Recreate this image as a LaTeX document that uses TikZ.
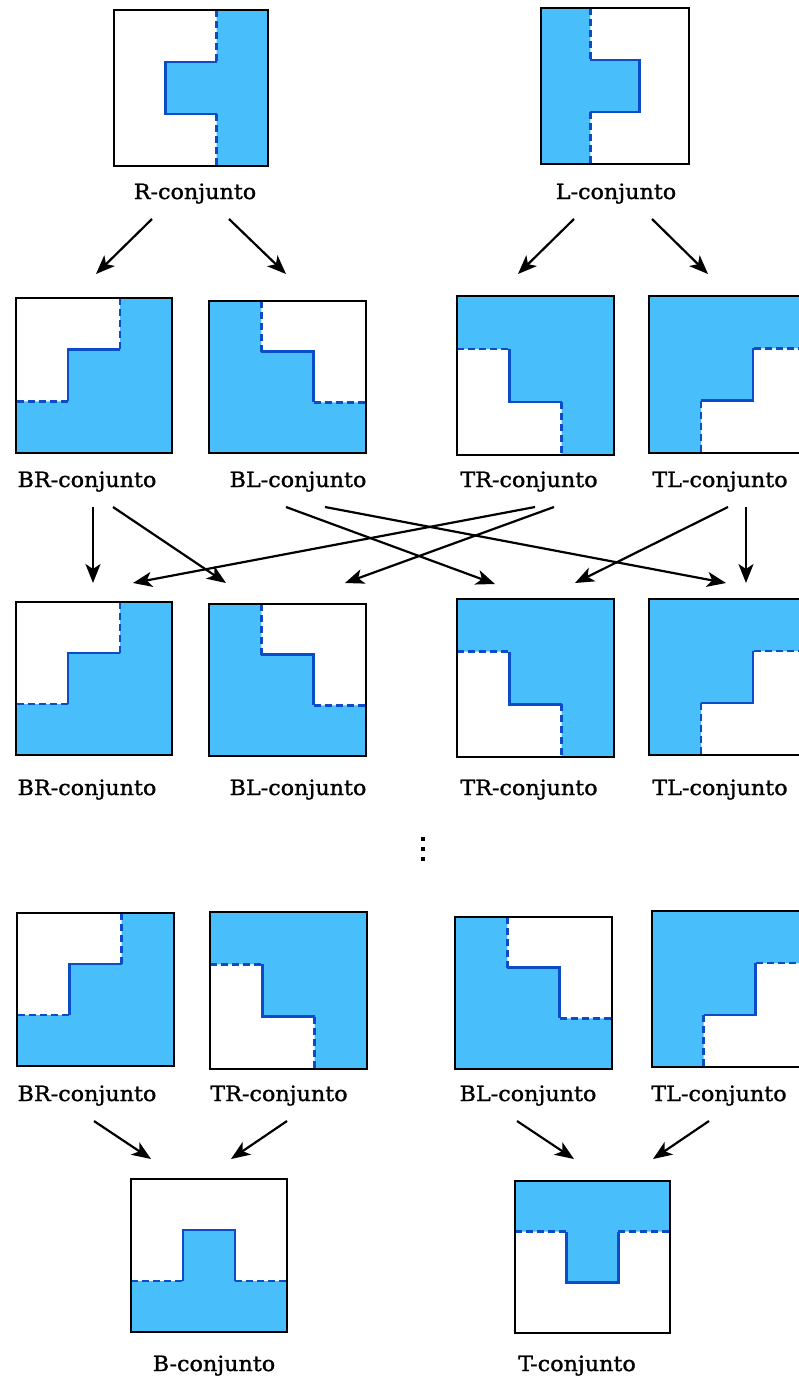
\documentclass[tikz,border=0pt]{standalone}
\usepackage{fontspec}
\setmainfont{DejaVu Serif}[FakeStretch=1.06,FakeBold=1.3]
\usetikzlibrary{arrows.meta}
\definecolor{sky}{HTML}{48BEFA}
\definecolor{edgeblue}{HTML}{0B4CC9}
\tikzset{
  bfill/.style={fill=sky},
  bdash/.style={draw=edgeblue, line width=2.4pt, dash pattern=on 7pt off 4pt},
  bline/.style={draw=edgeblue, line width=2.4pt},
  frame/.style={draw=black, line width=2.4pt, inner sep=0pt, fill=none},
  lbl/.style={font=\fontsize{21}{25}\selectfont, anchor=base, inner sep=0pt},
  arr/.style={-{Stealth[length=19pt,width=15pt,inset=5pt]}, line width=2.2pt}
}
\newcommand\shpR{\fill[bfill] (2,0)--(3,0)--(3,3)--(2,3)--(2,2)--(1,2)--(1,1)--(2,1)--cycle;
  \draw[bdash] (2,0)--(2,1); \draw[bdash] (2,2)--(2,3); \draw[bline] (2,1)--(1,1)--(1,2)--(2,2);}
\newcommand\shpL{\fill[bfill] (0,0)--(1,0)--(1,1)--(2,1)--(2,2)--(1,2)--(1,3)--(0,3)--cycle;
  \draw[bdash] (1,0)--(1,1); \draw[bdash] (1,2)--(1,3); \draw[bline] (1,1)--(2,1)--(2,2)--(1,2);}
\newcommand\shpBR{\fill[bfill] (2,0)--(3,0)--(3,3)--(0,3)--(0,2)--(1,2)--(1,1)--(2,1)--cycle;
  \draw[bdash] (2,0)--(2,1); \draw[bline] (2,1)--(1,1)--(1,2); \draw[bdash] (1,2)--(0,2);}
\newcommand\shpBL{\fill[bfill] (0,0)--(1,0)--(1,1)--(2,1)--(2,2)--(3,2)--(3,3)--(0,3)--cycle;
  \draw[bdash] (1,0)--(1,1); \draw[bline] (1,1)--(2,1)--(2,2); \draw[bdash] (2,2)--(3,2);}
\newcommand\shpTR{\fill[bfill] (0,0)--(3,0)--(3,3)--(2,3)--(2,2)--(1,2)--(1,1)--(0,1)--cycle;
  \draw[bdash] (0,1)--(1,1); \draw[bline] (1,1)--(1,2)--(2,2); \draw[bdash] (2,2)--(2,3);}
\newcommand\shpTL{\fill[bfill] (0,0)--(3,0)--(3,1)--(2,1)--(2,2)--(1,2)--(1,3)--(0,3)--cycle;
  \draw[bdash] (3,1)--(2,1); \draw[bline] (2,1)--(2,2)--(1,2); \draw[bdash] (1,2)--(1,3);}
\newcommand\shpB{\fill[bfill] (0,2)--(1,2)--(1,1)--(2,1)--(2,2)--(3,2)--(3,3)--(0,3)--cycle;
  \draw[bdash] (0,2)--(1,2); \draw[bdash] (2,2)--(3,2); \draw[bline] (1,2)--(1,1)--(2,1)--(2,2);}
\newcommand\shpT{\fill[bfill] (0,0)--(3,0)--(3,1)--(2,1)--(2,2)--(1,2)--(1,1)--(0,1)--cycle;
  \draw[bdash] (0,1)--(1,1); \draw[bdash] (2,1)--(3,1); \draw[bline] (1,1)--(1,2)--(2,2)--(2,1);}
% #1 name, #2 type, #3 left, #4 top, #5 width, #6 height
\newcommand\panel[6]{%
  \begin{scope}[shift={(#3,#4)}, xscale=#5/3, yscale=#6/3]
    \csname shp#2\endcsname
    \node[frame, minimum width=#5pt, minimum height=#6pt] (#1) at (1.5,1.5) {};
  \end{scope}}
\begin{document}
\begin{tikzpicture}[x=1pt, y=-1pt]
\useasboundingbox (0,0) rectangle (799,1379);
\clip (0,0) rectangle (799,1379);
% row 1
\panel{R}{R}{114}{10}{154}{156}
\panel{L}{L}{541}{8}{148}{156}
\node[lbl] (lR) at (195,199) {R-conjunto};
\node[lbl] (lL) at (616,199) {L-conjunto};
% row 2
\panel{BRa}{BR}{16}{298}{156}{155}
\panel{BLa}{BL}{209}{301}{157}{152}
\panel{TRa}{TR}{457}{296}{157}{159}
\panel{TLa}{TL}{649}{296}{156}{157}
\node[lbl] (lBRa) at (87,487) {BR-conjunto};
\node[lbl] (lBLa) at (298,487) {BL-conjunto};
\node[lbl] (lTRa) at (529,487) {TR-conjunto};
\node[lbl] (lTLa) at (720,487) {TL-conjunto};
% row 3
\panel{BRb}{BR}{16}{602}{156}{153}
\panel{BLb}{BL}{209}{604}{157}{152}
\panel{TRb}{TR}{457}{599}{157}{158}
\panel{TLb}{TL}{649}{599}{156}{156}
\node[lbl] (lBRb) at (87,795) {BR-conjunto};
\node[lbl] (lBLb) at (298,795) {BL-conjunto};
\node[lbl] (lTRb) at (529,795) {TR-conjunto};
\node[lbl] (lTLb) at (720,795) {TL-conjunto};
% dots
\foreach \yy in {839,849,859} \fill (420.5,\yy-2) rectangle (424.5,\yy+2);
% row 4
\panel{BRc}{BR}{17}{913}{157}{153}
\panel{TRc}{TR}{210}{912}{157}{157}
\panel{BLc}{BL}{455}{917}{157}{152}
\panel{TLc}{TL}{652}{911}{155}{156}
\node[lbl] (lBRc) at (87,1101) {BR-conjunto};
\node[lbl] (lTRc) at (279,1101) {TR-conjunto};
\node[lbl] (lBLc) at (528,1101) {BL-conjunto};
\node[lbl] (lTLc) at (719,1101) {TL-conjunto};
% row 5
\panel{Bx}{B}{131}{1179}{156}{153}
\panel{Tx}{T}{515}{1181}{155}{152}
\node[lbl] (lB) at (214,1371) {B-conjunto};
\node[lbl] (lT) at (577,1371) {T-conjunto};
% arrow end points
\coordinate (r1) at (152,219); \coordinate (r1e) at (96,274);
\coordinate (r2) at (229,219); \coordinate (r2e) at (286,274);
\coordinate (l1) at (574,219); \coordinate (l1e) at (518,274);
\coordinate (l2) at (652,219); \coordinate (l2e) at (708,274);
\coordinate (a1) at (93,507);  \coordinate (a1e) at (93,583);
\coordinate (a2) at (113,507); \coordinate (a2e) at (226,583);
\coordinate (a3) at (286,507); \coordinate (a3e) at (495,584);
\coordinate (a4) at (325,507); \coordinate (a4e) at (726,583);
\coordinate (a5) at (535,507); \coordinate (a5e) at (133,583);
\coordinate (a6) at (554,507); \coordinate (a6e) at (345,583);
\coordinate (a7) at (728,507); \coordinate (a7e) at (575,583);
\coordinate (a8) at (746,507); \coordinate (a8e) at (746,583);
\coordinate (c1) at (94,1121);  \coordinate (c1e) at (151,1159);
\coordinate (c2) at (287,1121); \coordinate (c2e) at (231,1159);
\coordinate (c3) at (517,1121); \coordinate (c3e) at (574,1159);
\coordinate (c4) at (709,1121); \coordinate (c4e) at (653,1159);
\foreach \s in {r1,r2,l1,l2,a1,a2,a3,a4,a5,a6,a7,a8,c1,c2,c3,c4}
  \draw[arr] (\s) -- (\s e);
\end{tikzpicture}
\end{document}
